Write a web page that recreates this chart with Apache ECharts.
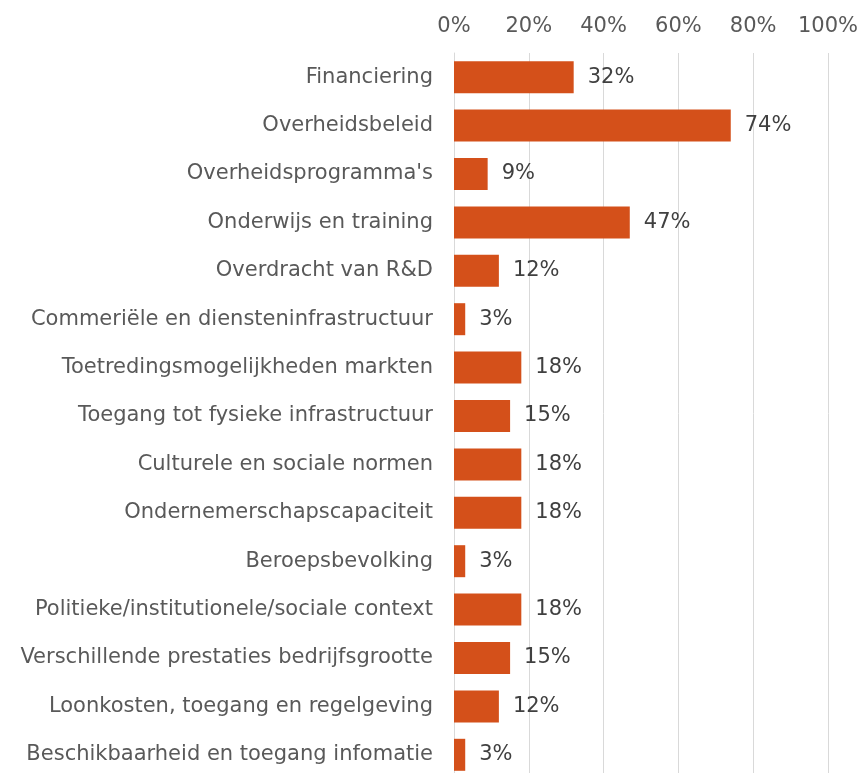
<!DOCTYPE html>
<html>
<head>
<meta charset="utf-8">
<script src="https://cdn.jsdelivr.net/npm/echarts@6/dist/echarts.min.js"></script>
<style>html,body{margin:0;padding:0;background:#fff}#c{width:863px;height:773px}</style>
</head>
<body>
<div id="c"></div>
<script>
var categories = ["Financiering","Overheidsbeleid","Overheidsprogramma's","Onderwijs en training","Overdracht van R&D","Commeriële en diensteninfrastructuur","Toetredingsmogelijkheden markten","Toegang tot fysieke infrastructuur","Culturele en sociale normen","Ondernemerschapscapaciteit","Beroepsbevolking","Politieke/institutionele/sociale context","Verschillende prestaties bedrijfsgrootte","Loonkosten, toegang en regelgeving","Beschikbaarheid en toegang infomatie"];
var values = [32,74,9,47,12,3,18,15,18,18,3,18,15,12,3];
var xTicks = [0,20,40,60,80,100];

var chart = echarts.init(document.getElementById('c'), null, {renderer:'canvas'});
var font = "DejaVu Sans";
chart.setOption({
  animation:false,
  grid:{left:454, right:35, top:53, bottom:-6, containLabel:false, outerBoundsMode:'none'},
  xAxis:{
    type:'value', position:'top', min:xTicks[0], max:xTicks[xTicks.length-1], interval:20,
    axisLine:{show:false}, axisTick:{show:false},
    splitLine:{lineStyle:{color:'#d9d9d9', width:1}},
    axisLabel:{formatter:'{value}%', color:'#595959', fontSize:21, fontFamily:font, margin:16}
  },
  yAxis:{
    type:'category', data:categories, inverse:true,
    axisLine:{show:true, lineStyle:{color:'#d9d9d9'}}, axisTick:{show:false},
    axisLabel:{color:'#595959', fontSize:21, fontFamily:font, margin:21}
  },
  series:[{
    type:'bar', data:values, barWidth:32,
    itemStyle:{color:'#D4501A'},
    label:{show:true, position:'right', distance:14, formatter:'{c}%', color:'#404040', fontSize:21, fontFamily:font}
  }]
});
</script>
</body>
</html>
